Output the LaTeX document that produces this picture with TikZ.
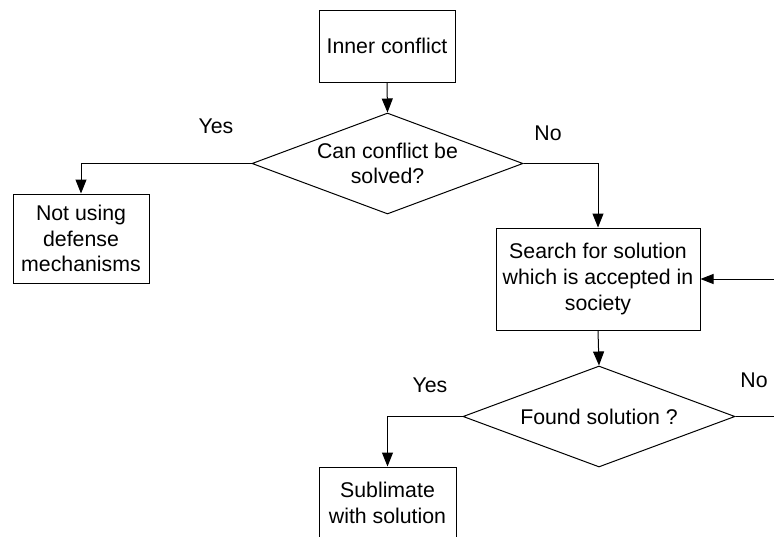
\documentclass[tikz,border=0pt]{standalone}
\usepackage{fontspec}
\setmainfont{Liberation Sans}
\usetikzlibrary{shapes.geometric,arrows.meta}
\begin{document}
\begin{tikzpicture}[x=1pt,y=-1pt,
  every node/.style={font=\fontsize{21.3}{25.7}\selectfont},
  box/.style={draw, line width=1pt, inner sep=0pt, align=center},
  decision/.style={draw, diamond, line width=1pt, inner sep=0pt},
  caption/.style={inner sep=0pt, align=center},
  flow/.style={line width=1pt, -{Triangle[length=14pt,width=11pt]}},
  link/.style={line width=1pt}]
  \useasboundingbox (0,0) rectangle (774,536);
  \clip (0,0) rectangle (774,536);

  % process boxes
  \node[box, minimum width=136pt, minimum height=72pt] (inner) at (387,46) {Inner conflict};
  \node[box, minimum width=136pt, minimum height=89pt] (nouse) at (81,238.5) {Not using\\defense\\mechanisms};
  \node[box, minimum width=204pt, minimum height=102pt] (search) at (598,279) {Search for solution\\which is accepted in\\society};
  \node[box, minimum width=137pt, minimum height=72pt] (sublim) at (387.5,503) {Sublimate\\with solution};

  % decisions
  \node[decision, minimum width=271pt, minimum height=101pt] (solve) at (387.5,163.5) {};
  \node[caption] (solvetxt) at (solve) {Can conflict be\\solved?};
  \node[decision, minimum width=272pt, minimum height=101pt] (found) at (599,416.5) {};
  \node[caption] (foundtxt) at (found) {Found solution ?};

  % branch labels
  \node[caption] (yes1) at (216,126) {Yes};
  \node[caption] (no1) at (548,133) {No};
  \node[caption] (yes2) at (430,385) {Yes};
  \node[caption] (no2) at (754,380) {No};

  % connectors
  \coordinate (loop) at (790,350);
  \draw[flow] (inner.south) -- (solve.north);
  \draw[flow] (solve.west) -| (nouse.north);
  \draw[flow] (solve.east) -| (search.north);
  \draw[flow] (search.south) -- (found.north);
  \draw[flow] (found.west) -| (sublim.north);
  \draw[link] (found.east) -| (loop);
  \draw[line width=1pt, -{Triangle[length=13pt,width=10pt]}] (loop) |- (search.east);
\end{tikzpicture}
\end{document}
